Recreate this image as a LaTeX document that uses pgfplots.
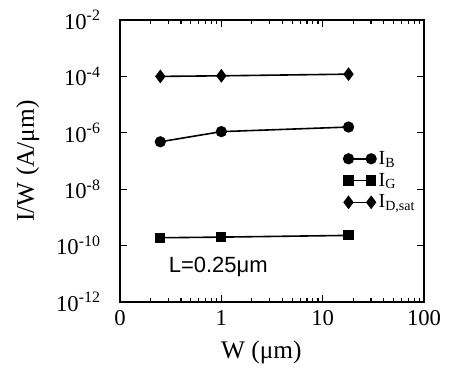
\documentclass[border=0pt]{standalone}
\usepackage{fontspec}
\setmainfont{Liberation Serif}
\newfontfamily\lsans{Liberation Sans}
\usepackage{pgfplots}
\pgfplotsset{compat=1.18}
\begin{document}
\begin{tikzpicture}
\begin{axis}[
  name=ax,
  scale only axis,
  width=228pt, height=211.5pt,
  xmode=log, ymode=log,
  xmin=0.1, xmax=100, ymin=1e-12, ymax=1e-2,
  xtick={0.1,1,10,100}, xticklabels={0,1,10,100},
  ytick={1e-12,1e-10,1e-8,1e-6,1e-4,1e-2},
  yticklabels={10\textsuperscript{-12},10\textsuperscript{-10},10\textsuperscript{-8},10\textsuperscript{-6},10\textsuperscript{-4},10\textsuperscript{-2}},
  yminorticks=false,
  tick align=inside,
  major tick length=5pt, minor tick length=3pt,
  axis line style={line width=1.6pt},
  every tick/.style={black, line width=0.8pt},
  tick label style={font=\fontsize{17}{19}\selectfont},
  yticklabel style={xshift=-11pt},
  xticklabel style={yshift=-3pt},
  xlabel={W (μm)}, ylabel={I/W (A/μm)},
  xlabel style={font=\fontsize{19}{21}\selectfont, at={(axis description cs:0.465,-0.18)}, anchor=center},
  ylabel style={font=\fontsize{19}{21}\selectfont, at={(axis description cs:-0.303,0.5)}, anchor=center},
  legend style={draw=none, fill=none, at={(rel axis cs:0.735,0.545)}, anchor=north west,
    font=\fontsize{15}{16}\selectfont, row sep=1pt, inner sep=0pt},
  legend cell align=left,
  legend image code/.code={\draw[#1] plot coordinates {(0pt,0pt) (17pt,0pt)};},
]
\addplot[black, line width=1.2pt, mark=*, mark size=3.6pt] coordinates {(0.25,4.8e-7) (1,1.1e-6) (18,1.6e-6)};
\addlegendentry{I\textsubscript{B}}
\addplot[black, line width=1.2pt, mark=square*, mark size=3.2pt] coordinates {(0.25,1.9e-10) (1,2.0e-10) (18,2.3e-10)};
\addlegendentry{I\textsubscript{G}}
\addplot[black, line width=1.2pt, mark=diamond*, mark size=4.2pt] coordinates {(0.25,1.0e-4) (1,1.05e-4) (18,1.2e-4)};
\addlegendentry{I\textsubscript{D,sat}}
\node[anchor=west, font=\lsans\fontsize{16.5}{18}\selectfont] at (rel axis cs:0.145,0.124) {L=0.25μm};
\end{axis}
\pgfresetboundingbox
\path ([xshift=-90pt,yshift=-51pt]ax.south west) rectangle ([xshift=24pt,yshift=15pt]ax.north east);
\end{tikzpicture}
\end{document}
